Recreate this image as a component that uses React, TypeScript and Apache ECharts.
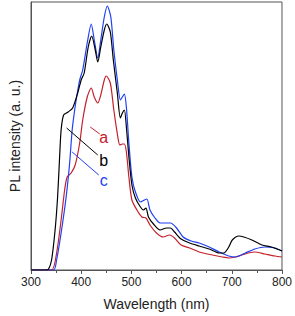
import React, { useEffect, useRef } from "react";
import * as echarts from "echarts";

// Wavelength (nm) / PL intensity (a.u.) pairs
const seriesA: [number, number][] = [
  [300, 0], [341, 0], [351, 17], [360, 50], [367, 80], [372, 93], [380, 97], [388, 105], [397, 127],
  [403, 150], [412, 173], [420, 182], [426, 173], [433, 167], [439, 175], [446, 190], [450, 194],
  [458, 187], [465, 160], [473, 133], [477, 125], [482, 126], [486, 126], [490, 118], [495, 93],
  [501, 70], [511, 60], [521, 53], [529, 52], [537, 45], [550, 37], [563, 33], [576, 35], [586, 32],
  [599, 25], [616, 22], [635, 18], [661, 15], [681, 13], [694, 12], [707, 13], [720, 15], [733, 17],
  [746, 18], [766, 16], [786, 14], [800, 13],
];
const seriesB: [number, number][] = [
  [300, 0], [330, 0], [335, 1], [341, 10], [348, 40], [353, 73], [357, 113], [360, 140], [365, 155],
  [374, 158], [383, 162], [393, 177], [400, 190], [406, 197], [414, 223], [421, 234], [428, 220],
  [433, 208], [439, 223], [446, 240], [451, 246], [458, 238], [464, 210], [472, 177], [478, 152],
  [482, 157], [486, 160], [490, 143], [495, 113], [501, 85], [508, 72], [518, 63], [524, 60],
  [529, 62], [534, 53], [544, 46], [557, 40], [570, 42], [578, 42], [586, 38], [599, 31], [616, 27],
  [635, 24], [655, 21], [675, 17], [684, 17], [694, 23], [701, 30], [714, 34], [724, 33], [740, 30],
  [760, 25], [779, 23], [800, 19],
];
const seriesC: [number, number][] = [
  [300, 0], [345, 0], [351, 10], [360, 37], [370, 73], [377, 107], [382, 140], [387, 160], [391, 173],
  [397, 190], [403, 200], [412, 227], [420, 246], [426, 230], [433, 212], [439, 230], [446, 253],
  [452, 264], [459, 253], [465, 220], [472, 190], [478, 170], [482, 173], [486, 176], [490, 163],
  [495, 127], [501, 93], [508, 78], [518, 68], [526, 70], [531, 71], [537, 60], [547, 52], [557, 47],
  [570, 47], [578, 47], [590, 42], [603, 33], [619, 29], [635, 27], [655, 23], [675, 18], [694, 14],
  [707, 13], [727, 17], [746, 21], [766, 23], [786, 22], [800, 19],
];

const seriesNames = ["a", "b", "c"];
const colors = ["#c4202c", "#000000", "#1f3ff5"];
// annotation arrows: [tail, head] in data coords
const arrows: [number, number][][] = [
  [[437, 136], [418, 143]],
  [[433, 115], [371, 142]],
  [[435, 95], [382, 118]],
];
const labelPos: [number, number][] = [[445, 133], [445, 110], [445, 90]];

const xTicks = { min: 300, max: 800, interval: 100 };

export default function App() {
  const ref = useRef<HTMLDivElement>(null);
  useEffect(() => {
    if (!ref.current) return;
    const chart = echarts.init(ref.current, null, { renderer: "svg" });
    const datas = [seriesA, seriesB, seriesC];
    chart.setOption({
      animation: false,
      grid: {
        left: 29, right: 11, top: 2, bottom: 46,
        show: true, borderColor: "#555", borderWidth: 1, backgroundColor: "transparent",
      },
      xAxis: {
        type: "value",
        min: xTicks.min, max: xTicks.max, interval: xTicks.interval,
        name: "Wavelength (nm)",
        nameLocation: "middle",
        nameGap: 27,
        nameTextStyle: { fontFamily: "Liberation Sans, Arial", fontSize: 14, color: "#222" },
        axisLine: { show: true, lineStyle: { color: "#555", width: 1 } },
        axisTick: { show: true, inside: false, length: 4, lineStyle: { color: "#555" } },
        minorTick: { show: true, splitNumber: 2, length: 3, lineStyle: { color: "#555" } },
        axisLabel: { fontFamily: "Liberation Sans, Arial", fontSize: 12, color: "#222", margin: 6 },
        splitLine: { show: false },
      },
      yAxis: {
        type: "value",
        min: 0, max: 268,
        name: "PL intensity (a. u.)",
        nameLocation: "middle",
        nameGap: 9,
        nameTextStyle: { fontFamily: "Liberation Sans, Arial", fontSize: 14, color: "#222" },
        axisLine: { show: true, lineStyle: { color: "#555", width: 1 } },
        axisTick: { show: false },
        axisLabel: { show: false },
        splitLine: { show: false },
      },
      series: datas.map((d, i) => ({
        name: seriesNames[i],
        type: "line",
        data: d,
        smooth: 0.25,
        showSymbol: false,
        symbol: "none",
        lineStyle: { color: colors[i], width: 1.2 },
        z: i === 1 ? 3 : 2,
        markLine: {
          silent: true,
          symbol: ["none", "arrow"],
          symbolSize: [0, 8],
          label: { show: false },
          lineStyle: { color: colors[i], width: 1, type: "solid" },
          data: [[{ coord: arrows[i][0] }, { coord: arrows[i][1] }]],
        },
        markPoint: {
          silent: true,
          symbol: "circle",
          symbolSize: 1,
          itemStyle: { color: "transparent" },
          label: {
            show: true,
            formatter: seriesNames[i],
            color: colors[i],
            fontSize: 16,
            fontFamily: "Liberation Sans, Arial",
            position: "inside",
          },
          data: [{ coord: labelPos[i] }],
        },
      })),
    });
    return () => chart.dispose();
  }, []);
  return <div ref={ref} style={{ width: 295, height: 316, position: "absolute", left: 0, top: 0 }} />;
}
